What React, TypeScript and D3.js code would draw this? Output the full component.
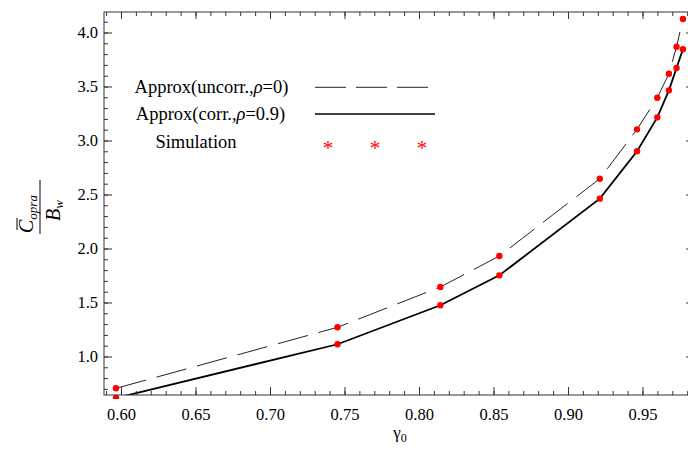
import React from 'react'
import * as d3 from 'd3'

// gamma_0 values of the simulated points
const gamma = [0.5963, 0.745, 0.814, 0.8536, 0.921, 0.946, 0.9596, 0.9674, 0.9725, 0.9768]
// approximation, uncorrelated (rho = 0)
const uncorr = [0.71, 1.275, 1.648, 1.935, 2.651, 3.108, 3.40, 3.623, 3.873, 4.13]
// approximation, correlated (rho = 0.9)
const corr = [0.62, 1.118, 1.479, 1.756, 2.466, 2.905, 3.219, 3.469, 3.676, 3.849]

const xMajor = [0.60, 0.65, 0.70, 0.75, 0.80, 0.85, 0.90, 0.95]
const yMajor = [1.0, 1.5, 2.0, 2.5, 3.0, 3.5, 4.0]

const W = 688
const H = 459
const left = 104, right = 694, top = 12, bottom = 395
const font = '"Liberation Serif", "Times New Roman", serif'

export default function App() {
  const x = d3.scaleLinear().domain([0.58826, 0.98423]).range([left, right])
  const y = d3.scaleLinear().domain([0.6481, 4.1944]).range([bottom, top])

  const xMinor = d3.range(59, 99).map(d => d / 100)
  const yMinor = d3.range(7, 42).map(d => d / 10)

  const line = d3.line<number>().x((d, i) => x(gamma[i])).y(d => y(d))

  const fmtX = d3.format('.2f')
  const fmtY = d3.format('.1f')

  return (
    <svg width={W} height={H} style={{ position: 'absolute', left: 0, top: 0 }} fontFamily={font}>
      <defs>
        <clipPath id="plot">
          <rect x={left} y={top} width={right - left} height={bottom - top} />
        </clipPath>
        <clipPath id="pts">
          <rect x={left} y={top - 4} width={right - left} height={bottom - top + 8} />
        </clipPath>
      </defs>
      <rect width={W} height={H} fill="#fff" />

      <g clipPath="url(#plot)">
        <path d={line(uncorr) || ''} fill="none" stroke="#222" strokeWidth={1} strokeDasharray="31,11" />
        <path d={line(corr) || ''} fill="none" stroke="#000" strokeWidth={1.8} />
      </g>
      <g clipPath="url(#pts)" fill="#ff0000">
        {gamma.map((g, i) => <circle key={'u' + i} cx={x(g)} cy={y(uncorr[i])} r={3.2} />)}
        {gamma.map((g, i) => <circle key={'c' + i} cx={x(g)} cy={y(corr[i])} r={3.2} />)}
      </g>

      {/* frame */}
      <rect x={left} y={top} width={right - left} height={bottom - top} fill="none" stroke="#333" strokeWidth={1} />
      <g stroke="#333" strokeWidth={1}>
        {xMinor.map(v => (
          <g key={'xm' + v}>
            <line x1={x(v)} x2={x(v)} y1={bottom} y2={bottom - 4} />
            <line x1={x(v)} x2={x(v)} y1={top} y2={top + 4} />
          </g>
        ))}
        {xMajor.map(v => (
          <g key={'xM' + v}>
            <line x1={x(v)} x2={x(v)} y1={bottom} y2={bottom - 8} />
            <line x1={x(v)} x2={x(v)} y1={top} y2={top + 7} />
          </g>
        ))}
        {yMinor.map(v => (
          <g key={'ym' + v}>
            <line x1={left} x2={left + 4} y1={y(v)} y2={y(v)} />
            <line x1={right} x2={right - 4} y1={y(v)} y2={y(v)} />
          </g>
        ))}
        {yMajor.map(v => (
          <g key={'yM' + v}>
            <line x1={left} x2={left + 8} y1={y(v)} y2={y(v)} />
            <line x1={right} x2={right - 8} y1={y(v)} y2={y(v)} />
          </g>
        ))}
      </g>
      <g fontSize={16.5} fill="#000">
        {xMajor.map(v => (
          <text key={'xl' + v} x={x(v)} y={420} textAnchor="middle">{fmtX(v)}</text>
        ))}
        {yMajor.map(v => (
          <text key={'yl' + v} x={left - 6} y={y(v) + 5.5} textAnchor="end">{fmtY(v)}</text>
        ))}
      </g>

      {/* axis labels */}
      <text x={400} y={438} fontSize={17} textAnchor="middle">
        γ<tspan fontSize={12} dy={4}>0</tspan>
      </text>
      <g transform="translate(40,207) rotate(-90)">
        <text x={-26} y={-7} fontSize={20} fontStyle="italic">
          C<tspan fontSize={13} dy={4}>opra</tspan>
        </text>
        <line x1={-23} x2={-11} y1={-23} y2={-23} stroke="#000" strokeWidth={1} />
        <line x1={-27} x2={27} y1={0} y2={0} stroke="#000" strokeWidth={1} />
        <text x={-14} y={20} fontSize={20} fontStyle="italic">
          B<tspan fontSize={13} dy={3}>w</tspan>
        </text>
      </g>

      {/* legend */}
      <g fontSize={18.5} fill="#000">
        <text x={211.5} y={93} textAnchor="middle">
          Approx(uncorr.,<tspan fontStyle="italic">ρ</tspan>=0)
        </text>
        <text x={210.5} y={120} textAnchor="middle">
          Approx(corr.,<tspan fontStyle="italic">ρ</tspan>=0.9)
        </text>
        <text x={196} y={148} textAnchor="middle">Simulation</text>
      </g>
      <line x1={315} x2={431} y1={87.3} y2={87.3} stroke="#222" strokeWidth={1} strokeDasharray="31,10" />
      <line x1={315} x2={435} y1={114} y2={114} stroke="#000" strokeWidth={1.3} />
      <g fill="#ff0000" fontSize={21} textAnchor="middle">
        {[328, 375, 422].map(cx => <text key={cx} x={cx} y={155}>*</text>)}
      </g>
    </svg>
  )
}
